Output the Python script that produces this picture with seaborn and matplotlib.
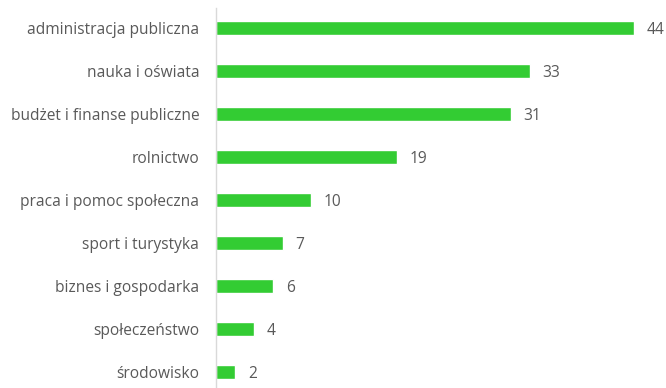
import matplotlib
matplotlib.use("Agg")
import matplotlib.pyplot as plt
import seaborn as sns
import pandas as pd

categories = [
    "administracja publiczna",
    "nauka i oświata",
    "budżet i finanse publiczne",
    "rolnictwo",
    "praca i pomoc społeczna",
    "sport i turystyka",
    "biznes i gospodarka",
    "społeczeństwo",
    "środowisko",
]
values = [44, 33, 31, 19, 10, 7, 6, 4, 2]

df = pd.DataFrame({"kategoria": categories, "liczba": values})

sns.set_theme(style="white")
plt.rcParams["font.family"] = ["Open Sans", "DejaVu Sans"]

W, H = 666, 388
fig = plt.figure(figsize=(W / 100, H / 100), dpi=100)
left_px, right_px = 216, 634
top_px, bottom_px = 8, 388
ax = fig.add_axes([left_px / W, 1 - bottom_px / H,
                   (right_px - left_px) / W, (bottom_px - top_px) / H])

sns.barplot(data=df, y="kategoria", x="liczba", orient="h", color="#33cc33",
            saturation=1, width=0.33, ax=ax)

ax.set_xlim(0, 44)
spacing = 43.0
ax.set_ylim(8 + (bottom_px - 372) / spacing, -(28 - top_px) / spacing)

for i, v in enumerate(values):
    ax.text(v + 1.35, i, str(v), va="center_baseline", ha="left",
            fontsize=11.2, color="#595959", clip_on=False)

ax.set_xlabel("")
ax.set_ylabel("")
ax.set_xticks([])
ax.tick_params(axis="y", length=0, pad=12, labelsize=11.2, labelcolor="#595959")
for lbl in ax.get_yticklabels():
    lbl.set_verticalalignment("center_baseline")
for s in ["top", "right", "bottom"]:
    ax.spines[s].set_visible(False)
ax.spines["left"].set_color("#d9d9d9")
ax.spines["left"].set_linewidth(1)

fig.savefig("out.png", dpi=100)
